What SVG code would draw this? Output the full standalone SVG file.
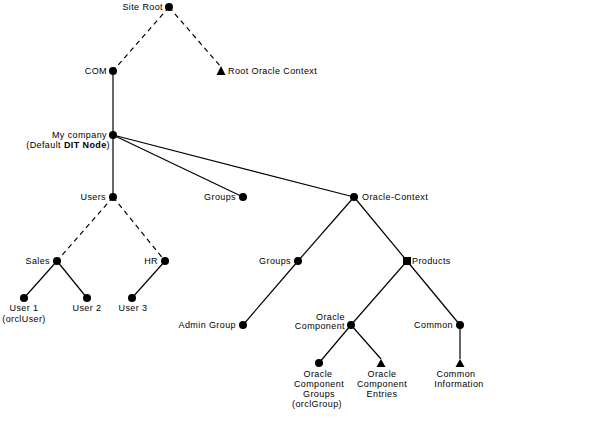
<svg xmlns="http://www.w3.org/2000/svg" width="592" height="422" viewBox="0 0 592 422">
<style>
text{font-family:"Liberation Sans",Arial,sans-serif;font-size:9px;letter-spacing:0.4px;fill:#000}
.e{text-anchor:end}
.m{text-anchor:middle}
.b{font-weight:bold}
.ln{stroke:#000;stroke-width:1.2;fill:none}
.d{stroke-dasharray:5 4}
.dot{fill:#000}
</style>
<rect width="592" height="422" fill="#fff"/>
<g id="connectors">
<line class="ln d" x1="169" y1="7" x2="113" y2="71"/>
<line class="ln d" x1="169" y1="7" x2="221" y2="67"/>
<line class="ln" x1="113" y1="71" x2="113" y2="135"/>
<line class="ln" x1="113" y1="135" x2="113" y2="197"/>
<line class="ln" x1="113" y1="135" x2="243" y2="197"/>
<line class="ln" x1="113" y1="135" x2="354" y2="197"/>
<line class="ln d" x1="113" y1="197" x2="57" y2="261"/>
<line class="ln d" x1="113" y1="197" x2="165" y2="261"/>
<line class="ln" x1="57" y1="261" x2="24" y2="298"/>
<line class="ln" x1="57" y1="261" x2="87" y2="298"/>
<line class="ln" x1="165" y1="261" x2="132" y2="298"/>
<line class="ln" x1="354" y1="197" x2="298" y2="261"/>
<line class="ln" x1="354" y1="197" x2="407" y2="261"/>
<line class="ln" x1="298" y1="261" x2="243" y2="325"/>
<line class="ln" x1="407" y1="261" x2="351" y2="325"/>
<line class="ln" x1="407" y1="261" x2="460" y2="325"/>
<line class="ln" x1="351" y1="325" x2="319" y2="363"/>
<line class="ln" x1="351" y1="325" x2="381" y2="359"/>
<line class="ln" x1="460" y1="325" x2="460" y2="359"/>
</g>
<g id="siteRoot"><circle class="dot" cx="169" cy="7" r="4"/><text class="e" x="163" y="10">Site Root</text></g>
<g id="com"><circle class="dot" cx="113" cy="71" r="4"/><text class="e" x="107" y="74">COM</text></g>
<g id="rootOracleContext"><polygon class="dot" points="221,66 216.5,75 225.5,75"/><text x="228" y="74">Root Oracle Context</text></g>
<g id="myCompany"><circle class="dot" cx="113" cy="135" r="4"/><text class="e" x="107" y="137.5">My company</text><text class="e" x="110" y="147.5">(Default <tspan class="b">DIT Node</tspan>)</text></g>
<g id="users"><circle class="dot" cx="113" cy="197" r="4"/><text class="e" x="106" y="200">Users</text></g>
<g id="groupsTop"><circle class="dot" cx="243" cy="197" r="4"/><text class="e" x="236" y="200">Groups</text></g>
<g id="oracleContext"><circle class="dot" cx="354" cy="197" r="4"/><text x="362" y="200">Oracle-Context</text></g>
<g id="sales"><circle class="dot" cx="57" cy="261" r="4"/><text class="e" x="50" y="264">Sales</text></g>
<g id="hr"><circle class="dot" cx="165" cy="261" r="4"/><text class="e" x="158" y="264">HR</text></g>
<g id="user1"><circle class="dot" cx="24" cy="298" r="4"/><text class="m" x="24" y="311">User 1</text><text class="m" x="24" y="322">(orclUser)</text></g>
<g id="user2"><circle class="dot" cx="87" cy="298" r="4"/><text class="m" x="87" y="311">User 2</text></g>
<g id="user3"><circle class="dot" cx="132" cy="298" r="4"/><text class="m" x="133" y="311">User 3</text></g>
<g id="groups"><circle class="dot" cx="298" cy="261" r="4"/><text class="e" x="291" y="264">Groups</text></g>
<g id="products"><rect class="dot" x="403" y="257" width="8" height="8"/><text x="412" y="264">Products</text></g>
<g id="adminGroup"><circle class="dot" cx="243" cy="325" r="4"/><text class="e" x="236" y="328">Admin Group</text></g>
<g id="oracleComponent"><circle class="dot" cx="351" cy="325" r="4"/><text x="316" y="320">Oracle</text><text class="e" x="345" y="329">Component</text></g>
<g id="common"><circle class="dot" cx="460" cy="325" r="4"/><text class="e" x="453" y="328">Common</text></g>
<g id="oracleComponentGroups"><circle class="dot" cx="319" cy="363" r="4"/><text class="m" x="318" y="377">Oracle</text><text class="m" x="319" y="387">Component</text><text class="m" x="319" y="397">Groups</text><text class="m" x="317" y="407">(orclGroup)</text></g>
<g id="oracleComponentEntries"><polygon class="dot" points="381,359 376.5,367 385.5,367"/><text class="m" x="382" y="377">Oracle</text><text class="m" x="382" y="387">Component</text><text class="m" x="382" y="397">Entries</text></g>
<g id="commonInformation"><polygon class="dot" points="460,359 455.5,367 464.5,367"/><text class="m" x="456" y="377">Common</text><text class="m" x="459" y="387">Information</text></g>
</svg>
